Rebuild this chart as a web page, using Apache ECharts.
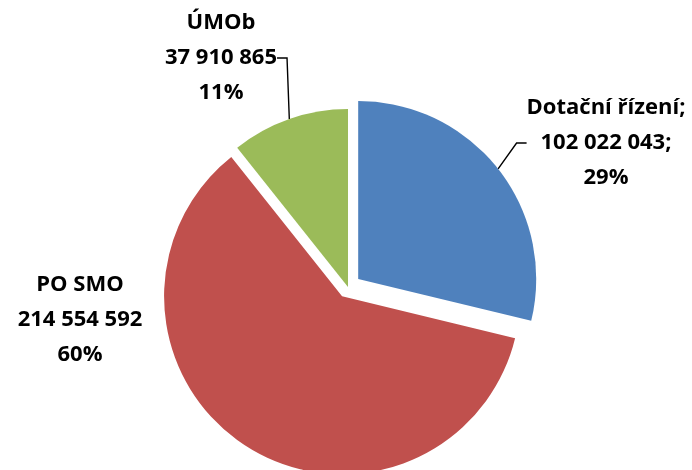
<!DOCTYPE html>
<html>
<head>
<meta charset="utf-8">
<script src="https://cdn.jsdelivr.net/npm/echarts@6/dist/echarts.min.js"></script>
<style>
  html, body { margin: 0; padding: 0; background: #fff; }
  #chart { width: 692px; height: 470px; }
</style>
</head>
<body>
<div id="chart"></div>
<script>
// data
const names = ['Dotační řízení', 'PO SMO', 'ÚMOb'];
const values = [102022043, 214554592, 37910865];
const colors = ['#4F81BD', '#C0504D', '#9BBB59'];
const separators = [';', '', '']; // Dotační řízení má středníky
const explode = [13, 11, 0]; // vysunutí výseče v px
const showLine = [true, false, true];

// kde sedí popisky (střed textového bloku)
const labelPos = [[606, 143], [80, 320], [221, 58]];

const center = [348, 287];
const radius = 178;

// 214554592 -> "214 554 592"
function fmt (v) {
  return String(v).replace(/\B(?=(\d{3})+(?!\d))/g, ' ');
}

const total = values.reduce((a, b) => a + b, 0);

// jedna série na výseč, ostatní výseče průhledné -> každá může být posunutá zvlášť
const series = values.map((v, i) => {
  const before = values.slice(0, i).reduce((a, b) => a + b, 0);
  const mid = (90 - 360 * (before + v / 2) / total) * Math.PI / 180;
  return {
    type: 'pie',
    silent: true,
    center: [center[0] + explode[i] * Math.cos(mid), center[1] - explode[i] * Math.sin(mid)],
    radius: radius,
    startAngle: 90,
    clockwise: true,
    percentPrecision: 0,
    avoidLabelOverlap: false,
    emphasis: { disabled: true },
    data: names.map((name, j) => ({
      name: name,
      value: values[j],
      itemStyle: { color: j === i ? colors[j] : 'rgba(0,0,0,0)' },
      label: { show: j === i },
      labelLine: { show: j === i && showLine[j] }
    })),
    label: {
      position: 'outside',
      color: '#000',
      fontFamily: 'Open Sans',
      fontWeight: 'bold',
      fontSize: 22,
      lineHeight: 35,
      align: 'center',
      formatter: p => {
        const s = separators[p.dataIndex];
        return p.name + s + '\n' + fmt(p.value) + s + '\n' + p.percent + '%';
      }
    },
    labelLine: {
      length: 8,
      length2: 10,
      smooth: false,
      lineStyle: { color: '#000', width: 1.4 }
    },
    labelLayout: params => ({
      x: labelPos[params.dataIndex][0],
      y: labelPos[params.dataIndex][1],
      align: 'center',
      verticalAlign: 'middle'
    })
  };
});

const chart = echarts.init(document.getElementById('chart'));
chart.setOption({
  animation: false,
  series: series
});
</script>
</body>
</html>
